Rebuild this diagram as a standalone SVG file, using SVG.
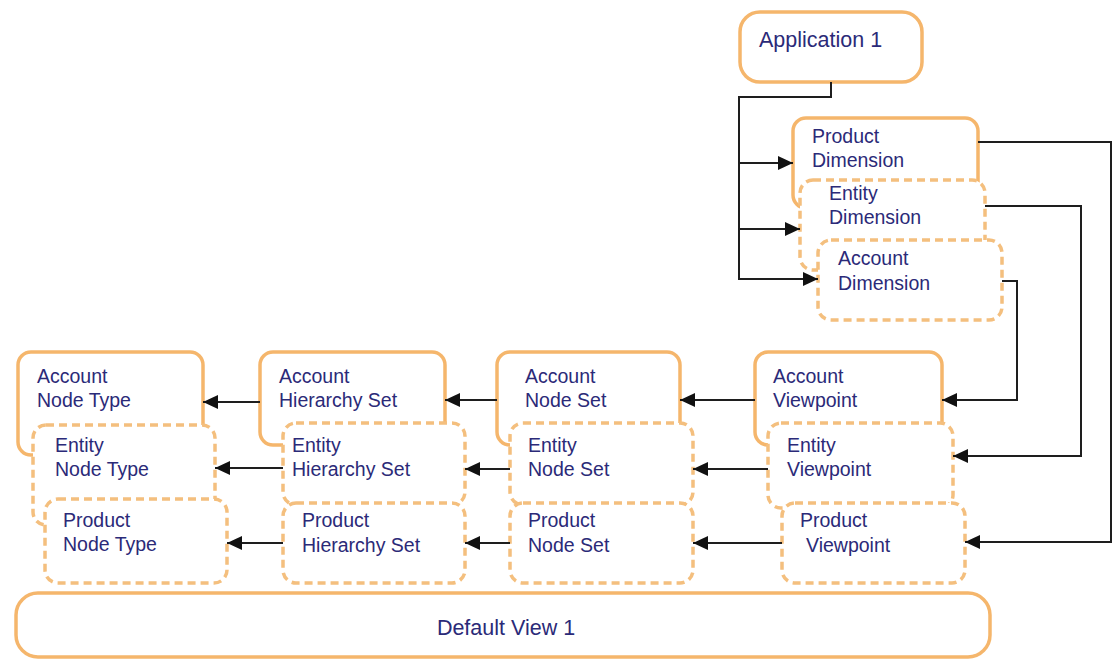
<svg xmlns="http://www.w3.org/2000/svg" width="1113" height="660" viewBox="0 0 1113 660">
<style>
.solid{fill:#ffffff;stroke:#f5b66c;stroke-width:3.5}
.dash{fill:#ffffff;stroke:#f4bf7e;stroke-width:3.5;stroke-dasharray:8 5}
.t{font-family:"Liberation Sans",Arial,sans-serif;font-size:19.5px;fill:#2b2a78}
.big{font-size:21.5px}
.c{fill:none;stroke:#1e1e1e;stroke-width:2}
</style>
<defs>
<marker id="ah" markerUnits="userSpaceOnUse" markerWidth="16" markerHeight="16" refX="15" refY="8" orient="auto">
<path d="M0,1 L15,8 L0,15 z" fill="#111"/>
</marker>
</defs>
<rect width="1113" height="660" fill="#ffffff"/>
<g id="application1">
<rect class="solid" x="740" y="12" width="182" height="70" rx="20"/>
<text class="t big" x="759" y="47">Application 1</text>
</g>
<g id="productDimension">
<rect class="solid" x="793" y="118" width="185" height="90" rx="13"/>
<text class="t" x="812" y="143">Product</text>
<text class="t" x="812" y="167">Dimension</text>
</g>
<g id="entityDimension">
<rect class="dash" x="800" y="180" width="185" height="90" rx="13"/>
<text class="t" x="829" y="200">Entity</text>
<text class="t" x="829" y="224">Dimension</text>
</g>
<g id="accountDimension">
<rect class="dash" x="818" y="240" width="184" height="80" rx="13"/>
<text class="t" x="838" y="265">Account</text>
<text class="t" x="838" y="290">Dimension</text>
</g>
<g id="accountNodeType">
<rect class="solid" x="18" y="352" width="185" height="103" rx="13"/>
<text class="t" x="37" y="383">Account</text>
<text class="t" x="37" y="407">Node Type</text>
</g>
<g id="entityNodeType">
<rect class="dash" x="33" y="425" width="182" height="100" rx="13"/>
<text class="t" x="55" y="452">Entity</text>
<text class="t" x="55" y="476">Node Type</text>
</g>
<g id="productNodeType">
<rect class="dash" x="45" y="499" width="182" height="84" rx="13"/>
<text class="t" x="63" y="527">Product</text>
<text class="t" x="63" y="551">Node Type</text>
</g>
<g id="accountHierarchySet">
<rect class="solid" x="260" y="352" width="185" height="93" rx="13"/>
<text class="t" x="279" y="383">Account</text>
<text class="t" x="279" y="407">Hierarchy Set</text>
</g>
<g id="entityHierarchySet">
<rect class="dash" x="283" y="423" width="182" height="82" rx="13"/>
<text class="t" x="292" y="452">Entity</text>
<text class="t" x="292" y="476">Hierarchy Set</text>
</g>
<g id="productHierarchySet">
<rect class="dash" x="283" y="503" width="182" height="80" rx="13"/>
<text class="t" x="302" y="527">Product</text>
<text class="t" x="302" y="552">Hierarchy Set</text>
</g>
<g id="accountNodeSet">
<rect class="solid" x="497" y="352" width="183" height="93" rx="13"/>
<text class="t" x="525" y="383">Account</text>
<text class="t" x="525" y="407">Node Set</text>
</g>
<g id="entityNodeSet">
<rect class="dash" x="510" y="423" width="183" height="82" rx="13"/>
<text class="t" x="528" y="452">Entity</text>
<text class="t" x="528" y="476">Node Set</text>
</g>
<g id="productNodeSet">
<rect class="dash" x="510" y="503" width="183" height="80" rx="13"/>
<text class="t" x="528" y="527">Product</text>
<text class="t" x="528" y="552">Node Set</text>
</g>
<g id="accountViewpoint">
<rect class="solid" x="755" y="352" width="187" height="93" rx="13"/>
<text class="t" x="773" y="383">Account</text>
<text class="t" x="773" y="407">Viewpoint</text>
</g>
<g id="entityViewpoint">
<rect class="dash" x="768" y="423" width="185" height="85" rx="13"/>
<text class="t" x="787" y="452">Entity</text>
<text class="t" x="787" y="476">Viewpoint</text>
</g>
<g id="productViewpoint">
<rect class="dash" x="782" y="503" width="183" height="80" rx="13"/>
<text class="t" x="800" y="527">Product</text>
<text class="t" x="806" y="552">Viewpoint</text>
</g>
<g id="defaultView1">
<rect class="solid" x="16" y="593" width="974" height="64" rx="22"/>
<text class="t big" x="506" y="635" text-anchor="middle">Default View 1</text>
</g>
<g id="connectors">
<path class="c" d="M831,82 V97 H739 V279 H818" marker-end="url(#ah)"/>
<path class="c" d="M739,163 H793" marker-end="url(#ah)"/>
<path class="c" d="M739,229 H800" marker-end="url(#ah)"/>
<path class="c" d="M978,142 H1111 V542 H965" marker-end="url(#ah)"/>
<path class="c" d="M985,206 H1081 V456 H953" marker-end="url(#ah)"/>
<path class="c" d="M1002,281 H1017 V400 H942" marker-end="url(#ah)"/>
<path class="c" d="M755,400 H680" marker-end="url(#ah)"/>
<path class="c" d="M768,469 H693" marker-end="url(#ah)"/>
<path class="c" d="M782,543 H693" marker-end="url(#ah)"/>
<path class="c" d="M497,400 H445" marker-end="url(#ah)"/>
<path class="c" d="M510,469 H465" marker-end="url(#ah)"/>
<path class="c" d="M510,543 H465" marker-end="url(#ah)"/>
<path class="c" d="M260,402 H203" marker-end="url(#ah)"/>
<path class="c" d="M283,468 H215" marker-end="url(#ah)"/>
<path class="c" d="M283,543 H227" marker-end="url(#ah)"/>
</g>
</svg>
